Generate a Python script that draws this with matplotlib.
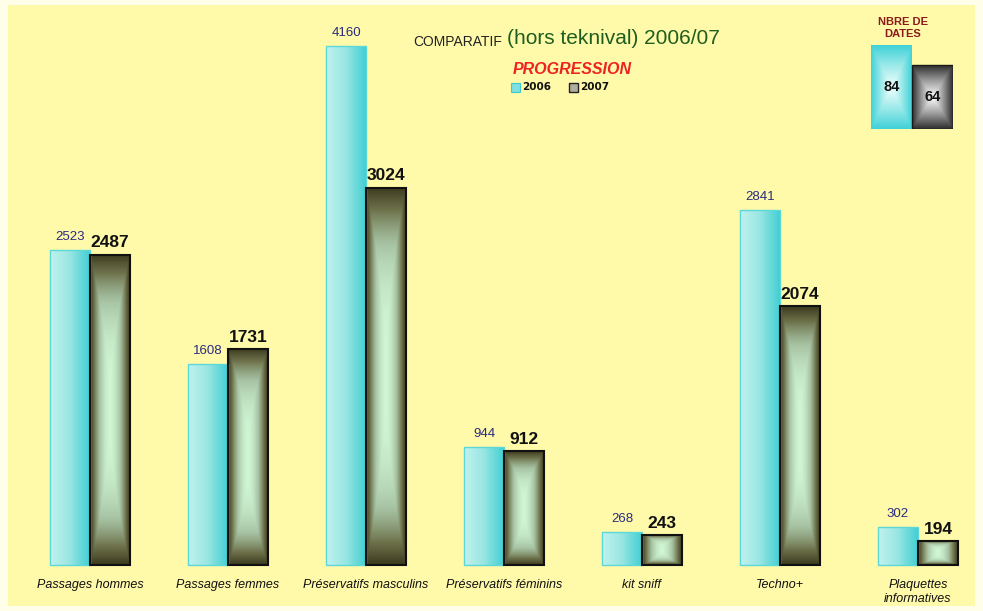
import numpy as np
import matplotlib
matplotlib.use("Agg")
import matplotlib.pyplot as plt
from matplotlib.colors import LinearSegmentedColormap
from matplotlib.patches import Rectangle

plt.rcParams['font.family'] = ['Liberation Sans', 'DejaVu Sans']

categories = ["Passages hommes", "Passages femmes", "Préservatifs masculins",
              "Préservatifs féminins", "kit sniff", "Techno+", "Plaquettes\ninformatives"]
values_2006 = [2523, 1608, 4160, 944, 268, 2841, 302]
values_2007 = [2487, 1731, 3024, 912, 243, 2074, 194]
series_names = ["2006", "2007"]
dates_labels = ["2006", "2007"]
dates_values = [84, 64]

W, H = 983, 611
fig = plt.figure(figsize=(W / 100, H / 100), dpi=100)
fig.patch.set_facecolor('#FFFEE8')
fig.patches.append(Rectangle((8 / W, 5 / H), (W - 16) / W, (H - 10) / H,
                             transform=fig.transFigure, facecolor='#FFF9AA',
                             edgecolor='none', zorder=-5))

ax = fig.add_axes([0, 0, 1, 1])
ax.set_facecolor('none')
ax.axis('off')

cmap_2006 = LinearSegmentedColormap.from_list('c6', ['#C0F2EE', '#98E6E2', '#42CFD4'])
cmap_2007 = LinearSegmentedColormap.from_list(
    'c7', [(0.0, '#D0F6D4'), (0.35, '#A6C2A2'), (0.7, '#6C7049'), (1.0, '#3C3A1E')])
cmap_in6 = LinearSegmentedColormap.from_list('i6', ['#F4FFFF', '#9EEAEA', '#40D2D8'])
cmap_in7 = LinearSegmentedColormap.from_list('i7', ['#FFFFFF', '#A0A0A0', '#2E2E2E'])


def grad_bar(a, patch, cmap, mode):
    x0, y0 = patch.get_x(), patch.get_y()
    w, h = patch.get_width(), patch.get_height()
    n = 200
    u = np.linspace(-1, 1, n)
    U, V = np.meshgrid(u, u)
    if mode == 'h':
        Z = (U + 1) / 2
    elif mode == 'q':
        Z = np.maximum(np.abs(U) ** 1.6, np.abs(V) ** 3)
    else:
        Z = np.maximum(np.abs(U), np.abs(V))
    im = a.imshow(Z, cmap=cmap, extent=(x0, x0 + w, y0, y0 + h), origin='lower',
                  aspect='auto', zorder=2, interpolation='bilinear', vmin=0, vmax=1)
    im.set_clip_path(patch)


x = np.arange(len(categories))
bw = 40 / 138
bars6 = ax.bar(x - bw, values_2006, width=bw, align='edge', facecolor='none',
               edgecolor='#5CD8D8', linewidth=1.0, zorder=3)
bars7 = ax.bar(x, values_2007, width=bw, align='edge', facecolor='none',
               edgecolor='#111111', linewidth=1.5, zorder=3)
for b in bars6:
    grad_bar(ax, b, cmap_2006, 'h')
for b in bars7:
    grad_bar(ax, b, cmap_2007, 'q')

for b, v in zip(bars6, values_2006):
    ax.annotate(str(v), (b.get_x() + b.get_width() / 2, v), xytext=(0, 5),
                textcoords='offset points', ha='center', va='bottom',
                fontsize=9.5, color='#2A2A80', zorder=4)
for b, v in zip(bars7, values_2007):
    ax.annotate(str(v), (b.get_x() + b.get_width() / 2, v), xytext=(0, 3),
                textcoords='offset points', ha='center', va='bottom',
                fontsize=12.5, fontweight='bold', color='#111111', zorder=4)

trans = matplotlib.transforms.blended_transform_factory(ax.transData, ax.transAxes)
for xi, c in zip(x, categories):
    ax.text(xi, 1 - 579 / H, c, transform=trans, ha='center', va='top',
            fontsize=9, fontstyle='italic', color='#111111', linespacing=1.2)

ax.set_xlim((0 - 90) / 138, (W - 90) / 138)
ax.set_ylim((565 - H) / 0.1248, 565 / 0.1248)

# Title
fig.text(413 / W, 1 - 42 / H, "COMPARATIF", fontsize=10, color='#222222',
         ha='left', va='center')
fig.text(507 / W, 1 - 39 / H, "(hors teknival) 2006/07", fontsize=15,
         color='#1E5E1E', ha='left', va='center')
fig.text(572 / W, 1 - 70 / H, "PROGRESSION", fontsize=11.5, color='#EE2222',
         fontweight='bold', fontstyle='italic', ha='center', va='center')
# legend
fig.patches.append(Rectangle((511 / W, 1 - 92 / H), 9 / W, 9 / H, transform=fig.transFigure,
                             facecolor='#7FE0E0', edgecolor='#40C8C8', linewidth=0.8, zorder=3))
fig.text(522 / W, 1 - 87.5 / H, series_names[0], fontsize=7.5, fontweight='bold',
         color='#111111', ha='left', va='center', family='DejaVu Sans')
fig.patches.append(Rectangle((569 / W, 1 - 92 / H), 9 / W, 9 / H, transform=fig.transFigure,
                             facecolor='#B0B0A0', edgecolor='#222222', linewidth=1.0, zorder=3))
fig.text(580 / W, 1 - 87.5 / H, series_names[1], fontsize=7.5, fontweight='bold',
         color='#111111', ha='left', va='center', family='DejaVu Sans')

# Inset: NBRE DE DATES
ax2 = fig.add_axes([871 / W, (H - 129) / H, 82 / W, 90 / H])
ax2.axis('off')
ax2.set_facecolor('none')
ib = ax2.bar([0, 1], dates_values, width=1, align='edge', facecolor='none',
             edgecolor='none', zorder=3)
grad_bar(ax2, ib[0], cmap_in6, 'p')
grad_bar(ax2, ib[1], cmap_in7, 'p')
ib[1].set_edgecolor('#1A1A1A')
ib[1].set_linewidth(1.0)
for b, v in zip(ib, dates_values):
    ax2.text(b.get_x() + 0.5, v / 2, str(v), ha='center', va='center',
             fontsize=10.5, fontweight='bold', color='#111111', zorder=5)
ax2.set_xlim(0, 2)
ax2.set_ylim(0, 90)
fig.text(903 / W, 1 - 28 / H, "NBRE DE\nDATES", fontsize=8, fontweight='bold',
         color='#8B1A1A', ha='center', va='center', linespacing=1.25)

fig.savefig('out.png', dpi=100, facecolor=fig.get_facecolor())
